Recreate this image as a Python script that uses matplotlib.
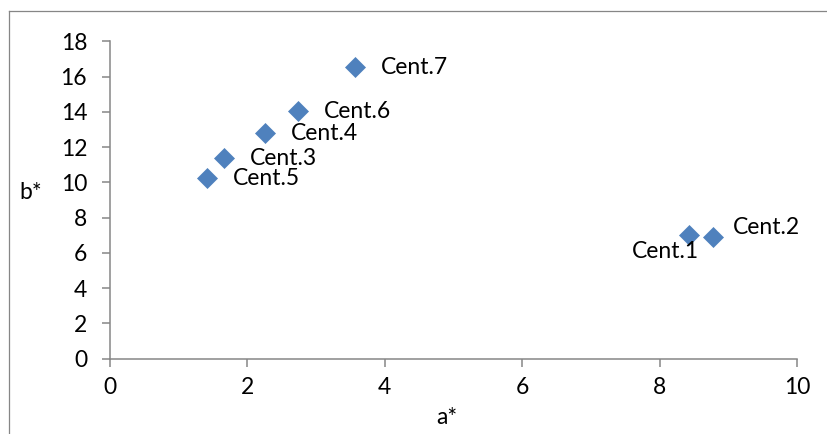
import matplotlib.pyplot as plt
from matplotlib.lines import Line2D

plt.rcParams["font.family"] = ["Lato", "DejaVu Sans"]

# centroid coordinates in the a*/b* plane
names = ["Cent.1", "Cent.2", "Cent.3", "Cent.4", "Cent.5", "Cent.6", "Cent.7"]
a_star = [8.43, 8.78, 1.66, 2.26, 1.41, 2.74, 3.57]
b_star = [6.99, 6.93, 11.39, 12.80, 10.25, 14.07, 16.56]

x_ticks = [0, 2, 4, 6, 8, 10]
y_ticks = [0, 2, 4, 6, 8, 10, 12, 14, 16, 18]

# label offsets in pixels (dx, dy, horizontal alignment)
label_pos = {
    "Cent.1": (10, -16, "right"),
    "Cent.2": (20, 10, "left"),
}
default_pos = (26, 0, "left")

DPI = 100
px = 72.0 / DPI
axis_color = "#868686"
marker_color = "#4F81BD"
fs = 16.5

fig = plt.figure(figsize=(8.28, 4.34), dpi=DPI)
fig.patch.set_facecolor("white")
ax = fig.add_axes([0.1329, 0.1735, 0.8297, 0.7313])

ax.plot(a_star, b_star, linestyle="none", marker="D", markersize=10,
        color=marker_color, markeredgecolor=marker_color, markeredgewidth=0.5)

for name, x, y in zip(names, a_star, b_star):
    dx, dy, ha = label_pos.get(name, default_pos)
    ax.annotate(name, (x, y), xytext=(dx * px, (dy - 7) * px),
                textcoords="offset points", ha=ha, va="baseline",
                fontsize=fs, color="black")

ax.set_xlim(0, 10)
ax.set_ylim(0, 18)
ax.set_xticks(x_ticks)
ax.set_yticks(y_ticks)

for side in ["top", "right"]:
    ax.spines[side].set_visible(False)
for side in ["left", "bottom"]:
    ax.spines[side].set_color(axis_color)
    ax.spines[side].set_linewidth(1.1)

ax.tick_params(axis="both", direction="out", length=5.5, width=1.1,
               color=axis_color, labelsize=fs, labelcolor="black")
ax.tick_params(axis="x", pad=8)
ax.tick_params(axis="y", pad=11)

fig.text(31 / 828, 1 - 192 / 434, "b*", fontsize=fs, ha="center", va="center")
fig.text(447 / 828, 1 - 417 / 434, "a*", fontsize=fs, ha="center", va="center")

# outer chart frame (left and top edges)
fig.add_artist(Line2D([8.5 / 828, 8.5 / 828], [0, 1 - 11 / 434],
                      transform=fig.transFigure, color=axis_color, lw=0.9))
fig.add_artist(Line2D([8.5 / 828, 1], [1 - 11 / 434, 1 - 11 / 434],
                      transform=fig.transFigure, color=axis_color, lw=0.9))

fig.savefig("out.png", dpi=DPI)
